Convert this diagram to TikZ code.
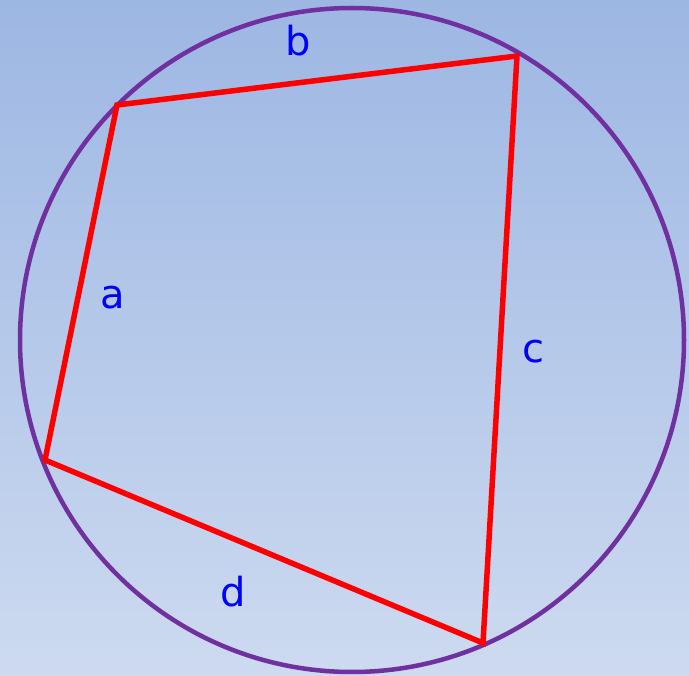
\documentclass[tikz,border=0pt]{standalone}
\usepackage{fontspec}
\setmainfont{DejaVu Sans}
\definecolor{bgtop}{RGB}{157,183,227}
\definecolor{bgbot}{RGB}{205,218,240}
\definecolor{circ}{RGB}{112,48,160}
\definecolor{quad}{RGB}{255,0,0}
\definecolor{lab}{RGB}{0,0,255}
\tikzset{
  lbl/.style={text=lab, font=\fontsize{40}{40}\selectfont, inner sep=0pt},
  edge/.style={draw=quad, line width=5.5pt, line join=miter},
  rim/.style={draw=circ, line width=4.5pt}
}
\begin{document}
\begin{tikzpicture}[x=1pt,y=-1pt]
\shade[top color=bgtop, bottom color=bgbot] (0,0) rectangle (689,676);
\useasboundingbox (0,0) rectangle (689,676);
\coordinate (O) at (352,340);
\draw[rim] (O) circle[radius=332];
\coordinate (A) at (117,105);
\coordinate (B) at (517,56);
\coordinate (C) at (483,643);
\coordinate (D) at (45,460);
\draw[edge] (A) -- (B) -- (C) -- (D) -- cycle;
\node[lbl] (lb) at (298,41) {b};
\node[lbl] (la) at (113,298) {a};
\node[lbl] (lc) at (533,352) {c};
\node[lbl] (ld) at (233,592) {d};
\end{tikzpicture}
\end{document}
